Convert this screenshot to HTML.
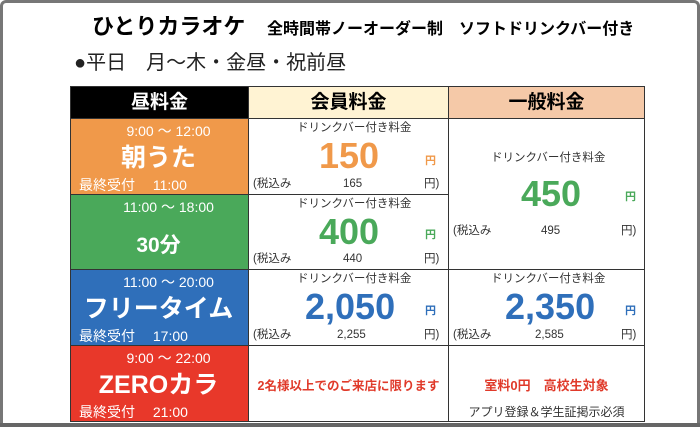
<!DOCTYPE html>
<html><head><meta charset="utf-8"><style>
*{margin:0;padding:0;box-sizing:border-box}
body{width:700px;height:427px;background:#fff;font-family:"Liberation Sans","Noto Sans CJK JP",sans-serif;position:relative;overflow:hidden}
.frame{position:absolute;left:0;top:0;width:700px;height:427px;border:3px solid #777;border-bottom:none;border-radius:6px 6px 0 0}
.a{position:absolute;white-space:nowrap}
.c{position:absolute;border:1px solid #333}
.w{color:#fff;font-weight:bold;text-align:center;position:absolute;white-space:nowrap}
.small{font-size:11.5px;color:#333;line-height:14px}
.num{font-weight:bold;font-family:"Liberation Sans","Noto Sans CJK JP",sans-serif;text-align:center}
.yen{font-size:11px;font-weight:bold}
</style></head><body>
<div class="frame"></div>
<div class="a" style="left:92px;top:13px;font-size:22px;line-height:28px;font-weight:bold">ひとりカラオケ</div>
<div class="a" style="left:267px;top:19px;font-size:16px;line-height:22px;font-weight:bold">全時間帯ノーオーダー制　ソフトドリンクバー付き</div>
<div class="a" style="left:74px;top:50px;font-size:20px;line-height:26px;color:#222">●平日　月～木・金昼・祝前昼</div>
<div style="position:absolute;left:0;top:423px;width:700px;height:4px;background:#666"></div>

<!-- headers -->
<div class="c" style="left:70px;top:86px;width:179px;height:33px;background:#000;color:#fff;font-size:19px;font-weight:bold;text-align:center;line-height:31px">昼料金</div>
<div class="c" style="left:248px;top:86px;width:201px;height:33px;background:#fff3d3;font-size:19px;font-weight:bold;text-align:center;line-height:31px">会員料金</div>
<div class="c" style="left:448px;top:86px;width:197px;height:33px;background:#f5c9a8;font-size:19px;font-weight:bold;text-align:center;line-height:31px">一般料金</div>

<!-- row1 -->
<div class="c" style="left:70px;top:118px;width:179px;height:77px;background:#f0994a">
<div class="w" style="left:0;width:175px;top:2px;font-size:14px;font-weight:normal;text-indent:20px">9:00 ～ 12:00</div>
<div class="w" style="left:0;width:175px;top:19px;font-size:25px">朝うた</div>
<div class="w" style="left:8px;top:56px;font-size:14px;font-weight:normal">最終受付　 11:00</div></div>
<div class="c" style="left:248px;top:118px;width:201px;height:77px">
<div class="a small" style="left:48px;top:2px">ドリンクバー付き料金</div>
<div class="a num" style="left:70px;top:16px;font-size:36px;color:#f0994a">150</div>
<div class="a yen" style="left:176px;top:33px;color:#f0994a">円</div>
<div class="a small" style="left:4px;top:58px">(税込み</div>
<div class="a small" style="left:94px;top:58px">165</div>
<div class="a small" style="left:175px;top:58px">円)</div></div>

<div class="c" style="left:448px;top:118px;width:197px;height:152px">
<div class="a small" style="left:42px;top:32px">ドリンクバー付き料金</div>
<div class="a num" style="left:72px;top:54px;font-size:36px;color:#4aa95a">450</div>
<div class="a yen" style="left:176px;top:69px;color:#4aa95a">円</div>
<div class="a small" style="left:4px;top:105px">(税込み</div>
<div class="a small" style="left:92px;top:105px">495</div>
<div class="a small" style="left:172px;top:105px">円)</div></div>

<!-- row2 -->
<div class="c" style="left:70px;top:194px;width:179px;height:76px;background:#4aa95a">
<div class="w" style="left:0;width:175px;top:2px;font-size:14px;font-weight:normal;text-indent:20px">11:00 ～ 18:00</div>
<div class="w" style="left:0;width:175px;top:34px;font-size:21px">30分</div></div>
<div class="c" style="left:248px;top:194px;width:201px;height:76px">
<div class="a small" style="left:48px;top:2px">ドリンクバー付き料金</div>
<div class="a num" style="left:70px;top:16px;font-size:36px;color:#4aa95a">400</div>
<div class="a yen" style="left:176px;top:31px;color:#4aa95a">円</div>
<div class="a small" style="left:4px;top:57px">(税込み</div>
<div class="a small" style="left:94px;top:57px">440</div>
<div class="a small" style="left:175px;top:57px">円)</div></div>

<!-- row3 -->
<div class="c" style="left:70px;top:269px;width:179px;height:77px;background:#2f6fba">
<div class="w" style="left:0;width:175px;top:2px;font-size:14px;font-weight:normal;text-indent:20px">11:00 ～ 20:00</div>
<div class="w" style="left:0;width:175px;top:19px;font-size:25px">フリータイム</div>
<div class="w" style="left:8px;top:56px;font-size:14px;font-weight:normal">最終受付　 17:00</div></div>
<div class="c" style="left:248px;top:269px;width:201px;height:77px">
<div class="a small" style="left:48px;top:2px">ドリンクバー付き料金</div>
<div class="a num" style="left:56px;top:16px;font-size:36px;color:#2f6fba">2,050</div>
<div class="a yen" style="left:176px;top:32px;color:#2f6fba">円</div>
<div class="a small" style="left:4px;top:58px">(税込み</div>
<div class="a small" style="left:88px;top:58px">2,255</div>
<div class="a small" style="left:175px;top:58px">円)</div></div>
<div class="c" style="left:448px;top:269px;width:197px;height:77px">
<div class="a small" style="left:42px;top:2px">ドリンクバー付き料金</div>
<div class="a num" style="left:56px;top:16px;font-size:36px;color:#2f6fba">2,350</div>
<div class="a yen" style="left:176px;top:32px;color:#2f6fba">円</div>
<div class="a small" style="left:4px;top:58px">(税込み</div>
<div class="a small" style="left:86px;top:58px">2,585</div>
<div class="a small" style="left:172px;top:58px">円)</div></div>

<!-- row4 -->
<div class="c" style="left:70px;top:345px;width:179px;height:77px;background:#e8382a">
<div class="w" style="left:0;width:175px;top:2px;font-size:14px;font-weight:normal;text-indent:20px">9:00 ～ 22:00</div>
<div class="w" style="left:0;width:175px;top:19px;font-size:25px">ZEROカラ</div>
<div class="w" style="left:8px;top:56px;font-size:14px;font-weight:normal">最終受付　 21:00</div></div>
<div class="c" style="left:248px;top:345px;width:201px;height:77px">
<div class="a" style="left:0;width:199px;text-align:center;top:29px;font-size:12.5px;font-weight:bold;color:#e03a2a">2名様以上でのご来店に限ります</div></div>
<div class="c" style="left:448px;top:345px;width:197px;height:77px">
<div class="a" style="left:0;width:195px;text-align:center;top:29px;font-size:13px;font-weight:bold;color:#e03a2a">室料0円　高校生対象</div>
<div class="a" style="left:0;width:195px;text-align:center;top:57px;font-size:12px;color:#333">アプリ登録＆学生証掲示必須</div></div>
</body></html>
